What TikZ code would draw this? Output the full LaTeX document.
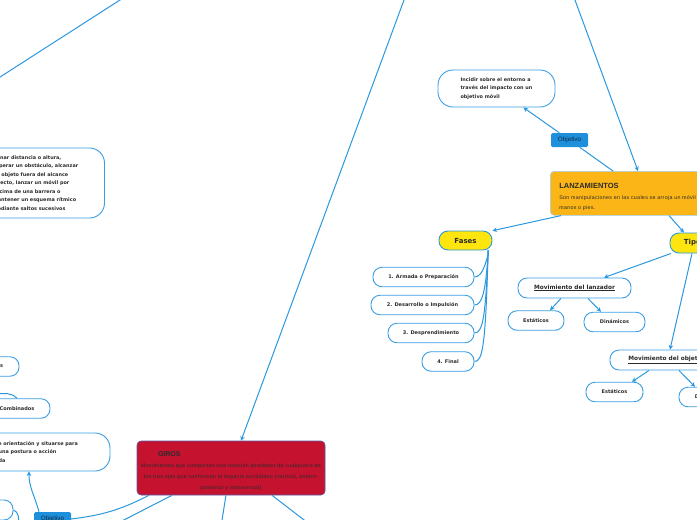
\documentclass[tikz,border=0pt]{standalone}
\usepackage{fontspec}
\setmainfont{Liberation Sans}
\newfontfamily\mapfont{DejaVu Sans}
\newfontfamily\spacedfont[LetterSpace=6]{Liberation Sans}
\usetikzlibrary{arrows.meta,positioning,calc}

\definecolor{linkblue}{HTML}{2A97DE}
\definecolor{tagblue}{HTML}{1E8FDA}
\definecolor{tagtext}{HTML}{0E2A47}
\definecolor{leafline}{HTML}{3A9EE4}
\definecolor{topicyellow}{HTML}{FFE50E}
\definecolor{lanzorange}{HTML}{FBB516}
\definecolor{girosred}{HTML}{C4122F}
\definecolor{textgray}{HTML}{2B2B2B}

\begin{document}
\begin{tikzpicture}[x=1pt,y=1pt,
  >={Stealth[length=4.5pt,width=4.5pt]},
  link/.style={draw=linkblue, line width=1pt},
  leaf/.style={draw=leafline, line width=0.9pt, fill=white, rounded corners=9pt,
    inner sep=0pt, minimum height=19.5pt, text=textgray,
    font=\mapfont\fontsize{5}{6}\selectfont\bfseries},
  bubble/.style={leaf, rounded corners=15pt, align=left,
    font=\mapfont\fontsize{4.9}{8.5}\selectfont\bfseries},
  topic/.style={leaf, fill=topicyellow, draw=linkblue, font=\mapfont\fontsize{7}{8}\selectfont\bfseries},
  heading/.style={leaf, font=\mapfont\fontsize{5.8}{7}\selectfont\bfseries},
  tag/.style={fill=tagblue, rounded corners=1.5pt, inner sep=0pt, minimum width=37pt,
    minimum height=14pt, text=tagtext, font=\fontsize{6.3}{7}\selectfont},
  mainbox/.style={rounded corners=4pt, line width=0.6pt, inner sep=0pt, text=textgray},
]
  \useasboundingbox (0,0) rectangle (697,-520);
  \clip (0,0) rectangle (697,-520);

  % Lanzamientos
  \node[mainbox, fill=lanzorange, draw=leafline!50, anchor=north west,
        minimum width=220pt, minimum height=44pt, inner xsep=9pt, text width=202pt, align=left,
        font=\spacedfont\fontsize{5.3}{10}\selectfont]
    (lanz) at (550,-171)
    {{\rmfamily\fontsize{7.5}{9}\selectfont\bfseries\rule{0pt}{12pt}LANZAMIENTOS}\\[1pt]
     Son manipulaciones en las cuales se arroja un móvil con las\\manos o pies.};
  \node[tag] (objR) at (569.5,-140) {Objetivo};
  \node[bubble, minimum width=117pt, minimum height=37pt] (incidir) at (496.5,-88.5)
    {Incidir sobre el entorno a\\través del impacto con un\\objetivo móvil};
  \node[topic, minimum width=53pt, minimum height=19pt] (fases) at (465.5,-240.5) {Fases};
  \node[topic, minimum width=49pt, minimum height=20pt] (tipos) at (694.5,-243) {Tipos};

  % Fases
  \node[leaf, minimum width=101pt] (f1) at (423.5,-277) {1. Armada o Preparación};
  \node[leaf, minimum width=103pt] (f2) at (422.5,-305) {2. Desarrollo o Impulsión};
  \node[leaf, minimum width=86pt] (f3) at (431,-333) {3. Desprendimiento};
  \node[leaf, minimum width=52pt] (f4) at (448,-361.5) {4. Final};

  % Tipos
  \node[heading, minimum width=113pt, minimum height=20pt] (movL) at (574.5,-288) {\underline{Movimiento del lanzador}};
  \node[leaf, minimum width=56pt] (est1) at (536,-320.5) {Estáticos};
  \node[leaf, minimum width=61pt] (din1) at (614.5,-322) {Dinámicos};
  \node[heading, minimum width=110pt, minimum height=20pt] (movO) at (665,-360) {\underline{Movimiento del objeto}};
  \node[leaf, minimum width=57pt] (est2) at (614.5,-392) {Estáticos};
  \node[leaf, minimum width=61pt] (din2) at (709.5,-397) {Dinámicos};

  % Giros
  \node[mainbox, fill=girosred, draw=blue!30!gray, minimum width=188pt, minimum height=54pt,
        align=center, font=\spacedfont\fontsize{5.3}{11}\selectfont] (giros) at (231,-468)
    {\makebox[174pt][l]{\rmfamily\fontsize{7}{8}\selectfont\bfseries\rule{0pt}{11.5pt}\hspace*{14pt}GIROS}\\
     Movimientos que comportan una rotación alrededor de cualquiera de\\
     los tres ejes que conforman el espacio euclidiano (vertical, antero-\\
     posterior y transversal)};
  \node[tag] (objL) at (52.5,-519) {Objetivo};
  \node[bubble, minimum width=172pt, minimum height=38pt] (orient) at (24,-452)
    {Cambiar de orientación y situarse para\\mantener una postura o acción\\determinada};

  % Left side
  \node[bubble, minimum width=138pt, minimum height=70pt] (saltos) at (35.5,-183)
    {Ganar distancia o altura,\\superar un obstáculo, alcanzar\\un objeto fuera del alcance\\directo, lanzar un móvil por\\encima de una barrera o\\mantener un esquema rítmico\\mediante saltos sucesivos};
  \node[leaf, minimum width=54pt] (simp) at (-8,-366.5) {Simples};
  \node[leaf, minimum width=66pt] (comb) at (17,-408.5) {Combinados};
  \node[leaf, minimum width=40pt, minimum height=20pt] (sub) at (-7,-510) {};

  % Connectors
  \coordinate (tl1) at (124.8,3.1);
  \coordinate (tl2) at (-6,-80.9);
  \coordinate (tm) at (405.5,4);
  \coordinate (tr) at (573.5,4);
  \draw[link] (tl1) -- (tl2);
  \draw[link,->] (tm) -- (giros);
  \draw[link,->] (tr) -- ([xshift=88pt]lanz.north west);

  \draw[link] ([xshift=63pt]lanz.north west) -- (objR);
  \draw[link,->] (objR) -- (incidir);
  \draw[link,->] ([xshift=11pt]lanz.south west) -- (fases.20);
  \draw[link,->] ([xshift=119pt]lanz.south west) -- ([xshift=-10.5pt]tipos.north);

  \coordinate (fs) at ([xshift=22.5pt]fases.south);
  \foreach \n in {f1,f2,f3,f4}
    \draw[link] (fs) -- ++(0,-5) .. controls ($(\n.east)+(11,14)$) and ($(\n.east)+(8,0)$) .. (\n.east);

  \draw[link,->] ([xshift=-23.5pt]tipos.south) -- ([xshift=29.5pt]movL.north);
  \draw[link,->] ([xshift=-13.5pt]movL.south) -- ([xshift=14pt]est1.north);
  \draw[link,->] ([xshift=13.5pt]movL.south) -- ([xshift=-13.5pt]din1.north);
  \draw[link,->] ([xshift=-2.5pt]tipos.south) -- ([xshift=5pt]movO.north);
  \draw[link,->] ([xshift=-16pt]movO.south) -- ([xshift=17.5pt]est2.north);
  \draw[link,->] ([xshift=14pt]movO.south) -- ([xshift=-14.5pt]din2.north);

  \coordinate (gb1) at (118,-523);
  \coordinate (gb2) at (221.5,-523);
  \coordinate (gb3) at (308,-523);
  \draw[link] ([xshift=-82pt]giros.south) to[bend left=10] (objL.east);
  \draw[link] ([xshift=-59pt]giros.south) -- (gb1);
  \draw[link] ([xshift=-5pt]giros.south) -- (gb2);
  \draw[link] ([xshift=41pt]giros.south) -- (gb3);
  \draw[link,->] ([xshift=-13.5pt]objL.north) to[out=105,in=-90] ([xshift=5pt]orient.south);

  \coordinate (cl) at (-4,-394);
  \coordinate (sb) at (19,-524);
  \draw[link] (cl) to[out=5,in=135] (comb.north);
  \draw[link] (sub.east) to[out=-20,in=95] (sb);
\end{tikzpicture}
\end{document}
